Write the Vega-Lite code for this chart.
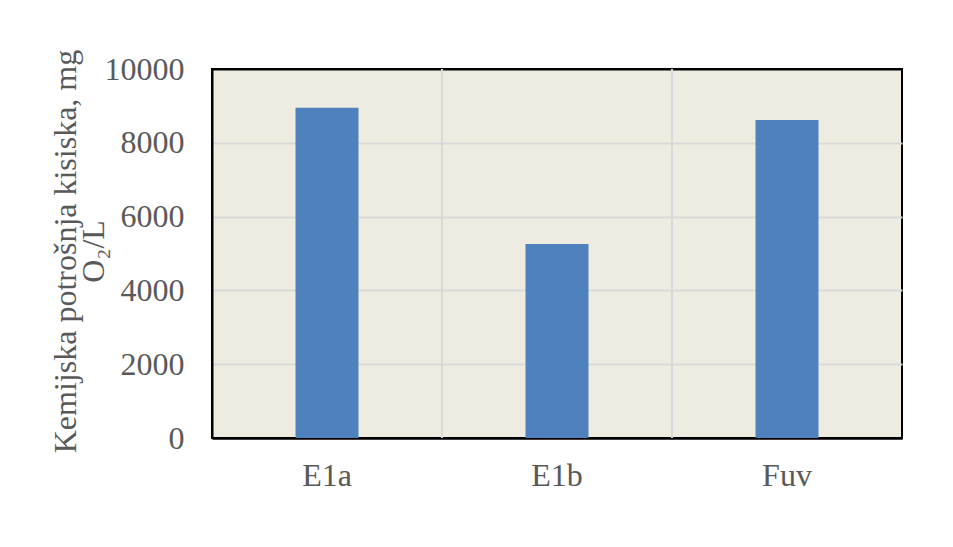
{
  "$schema": "https://vega.github.io/schema/vega-lite/v6.json",
  "width": 690,
  "height": 369,
  "autosize": {"type": "none"},
  "padding": {"left": 212, "top": 69, "right": 51, "bottom": 109},
  "background": "white",
  "config": {
    "view": {"fill": "#EEEBE0", "stroke": "black", "strokeWidth": 2},
    "font": "Liberation Serif"
  },
  "data": {
    "values": [
      {"uzorak": "E1a", "kpk": 8950},
      {"uzorak": "E1b", "kpk": 5260},
      {"uzorak": "Fuv", "kpk": 8620}
    ]
  },
  "resolve": {"axis": {"x": "independent"}},
  "layer": [
    {
      "transform": [{"filter": "datum.uzorak != 'E1a'"}],
      "mark": {"type": "rule", "color": "#D9D9D9", "strokeWidth": 2},
      "encoding": {
        "x": {"field": "uzorak", "type": "nominal", "bandPosition": 0, "sort": ["E1a", "E1b", "Fuv"], "axis": null}
      }
    },
    {
      "mark": {"type": "bar", "color": "#4F81BD", "size": 63},
      "encoding": {
        "x": {
          "field": "uzorak",
          "type": "nominal",
          "sort": ["E1a", "E1b", "Fuv"],
          "scale": {"domain": ["E1a", "E1b", "Fuv"], "paddingInner": 0, "paddingOuter": 0},
          "axis": {
            "title": null,
            "labelAngle": 0,
            "labelFontSize": 32,
            "labelColor": "#595959",
            "labelPadding": 22,
            "ticks": false,
            "domain": true,
            "domainColor": "black",
            "domainWidth": 2,
            "grid": false
          }
        },
        "y": {
          "field": "kpk",
          "type": "quantitative",
          "scale": {"domain": [0, 10000], "nice": false},
          "axis": {
            "values": [0, 2000, 4000, 6000, 8000, 10000],
            "format": "d",
            "labelFontSize": 32,
            "labelColor": "#595959",
            "labelPadding": 28,
            "ticks": false,
            "domain": true,
            "domainColor": "black",
            "domainWidth": 2,
            "gridColor": {
              "condition": {"test": "datum.value == 0 || datum.value == 10000", "value": "black"},
              "value": "#D9D9D9"
            },
            "gridWidth": 2,
            "title": ["Kemijska potrošnja kisiska, mg", "O₂/L"],
            "titleFontSize": 32,
            "titleFontWeight": "normal",
            "titleColor": "#595959",
            "titleLineHeight": 28,
            "titleAngle": -90,
            "titleAlign": "center",
            "titleBaseline": "alphabetic",
            "titleX": -137,
            "titleY": 182
          }
        }
      }
    }
  ]
}
